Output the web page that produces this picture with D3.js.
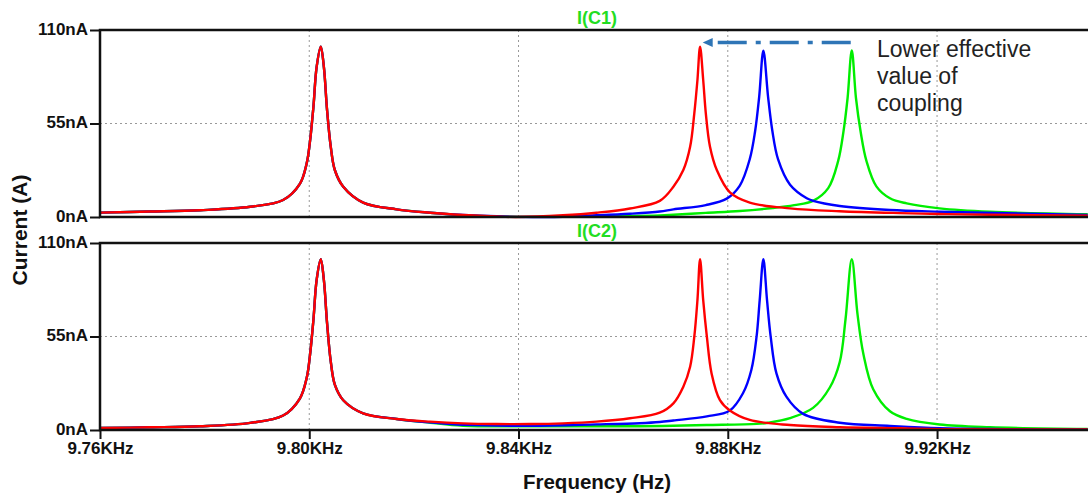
<!DOCTYPE html>
<html lang="en">
<head>
  <meta charset="utf-8">
  <title>I(C1) / I(C2) vs frequency</title>
  <script src="https://cdn.jsdelivr.net/npm/d3@7"></script>
  <style>
    body { margin: 0; background: #fff; }
    text { font-family: "Liberation Sans", Arial, sans-serif; }
  </style>
</head>
<body>
  <script>
    // frequency in KHz, current in nA
    const freqTicks = [9.76, 9.80, 9.84, 9.88, 9.92];
    const currentTicks = [0, 55, 110];

    // I(C1): first resonance is the same for all three couplings
    const c1Common = [[9.7600, 2.6], [9.7696, 3.2], [9.7791, 4.0], [9.7887, 6.0], [9.7950, 10.0],
      [9.7982, 19.5], [9.7995, 31.5], [9.8001, 43.5], [9.8008, 65.0], [9.8014, 88.0], [9.8022, 100.2],
      [9.8028, 88.0], [9.8034, 63.0], [9.8041, 41.5], [9.8049, 27.5], [9.8065, 17.8], [9.8103, 8.5],
      [9.8167, 4.5], [9.8231, 2.5]];
    const c1Red = c1Common.concat([[9.8294, 1.2], [9.8358, 0.3], [9.8396, 0.0], [9.8485, 1.0], [9.8549, 2.5],
      [9.8613, 5.0], [9.8670, 9.5], [9.8696, 17.8], [9.8715, 27.6], [9.8728, 41.3], [9.8736, 61.0],
      [9.8742, 80.6], [9.8747, 100.2], [9.8753, 80.6], [9.8758, 61.0], [9.8766, 41.3], [9.8779, 27.6],
      [9.8804, 14.5], [9.8842, 8.5], [9.8919, 5.1], [9.9014, 3.4], [9.9129, 2.3], [9.9205, 1.8],
      [9.9301, 1.3], [9.9488, 0.8]]);
    const c1Blue = c1Common.concat([[9.8294, 1.2], [9.8358, 0.4], [9.8454, 0.0], [9.8549, 1.0], [9.8613, 1.9],
      [9.8670, 3.2], [9.8696, 4.5], [9.8758, 7.0], [9.8798, 10.8], [9.8823, 18.5], [9.8842, 34.0],
      [9.8852, 50.0], [9.8860, 70.7], [9.8868, 97.8], [9.8877, 70.7], [9.8885, 51.0], [9.8896, 34.0],
      [9.8919, 19.0], [9.8951, 11.0], [9.8963, 9.5], [9.9014, 6.5], [9.9110, 4.1], [9.9205, 3.1],
      [9.9333, 2.2], [9.9488, 1.2]]);
    const c1Green = c1Common.concat([[9.8294, 1.0], [9.8358, 0.3], [9.8485, 0.1], [9.8549, 0.4], [9.8670, 0.9],
      [9.8696, 1.3], [9.8758, 2.4], [9.8823, 3.5], [9.8886, 5.3], [9.8927, 7.0], [9.8963, 9.5],
      [9.8992, 17.0], [9.9011, 33.0], [9.9021, 50.0], [9.9029, 70.0], [9.9037, 98.0], [9.9045, 70.0],
      [9.9054, 50.0], [9.9065, 33.0], [9.9084, 18.0], [9.9110, 11.0], [9.9142, 8.0], [9.9205, 5.1],
      [9.9301, 3.1], [9.9488, 1.6]]);

    // I(C2)
    const c2Common = [[9.7600, 1.2], [9.7696, 1.6], [9.7791, 2.2], [9.7887, 4.2], [9.7950, 8.5],
      [9.7982, 18.5], [9.7995, 30.5], [9.8001, 43.0], [9.8008, 65.0], [9.8014, 88.0], [9.8022, 100.4],
      [9.8028, 88.0], [9.8034, 63.0], [9.8041, 40.5], [9.8049, 26.5], [9.8065, 17.5], [9.8103, 9.8],
      [9.8167, 6.5]];
    const c2Red = c2Common.concat([[9.8231, 4.9], [9.8294, 3.9], [9.8358, 3.5], [9.8422, 3.5], [9.8485, 3.9],
      [9.8549, 4.9], [9.8613, 6.9], [9.8670, 10.2], [9.8696, 15.7], [9.8715, 25.5], [9.8728, 37.2],
      [9.8736, 54.9], [9.8742, 76.4], [9.8747, 100.4], [9.8753, 76.4], [9.8760, 54.9], [9.8769, 33.3],
      [9.8785, 17.6], [9.8804, 11.5], [9.8842, 5.9], [9.8919, 2.9], [9.9014, 1.6], [9.9129, 1.0],
      [9.9205, 0.5], [9.9488, 0.3]]);
    const c2Blue = c2Common.concat([[9.8231, 4.5], [9.8294, 3.0], [9.8422, 2.5], [9.8549, 3.3], [9.8632, 4.0],
      [9.8670, 4.7], [9.8696, 5.6], [9.8760, 8.0], [9.8804, 11.5], [9.8829, 21.6], [9.8845, 35.3],
      [9.8855, 54.9], [9.8861, 76.4], [9.8868, 100.4], [9.8875, 76.4], [9.8882, 54.9], [9.8893, 33.3],
      [9.8912, 19.6], [9.8944, 9.5], [9.9014, 4.3], [9.9110, 2.4], [9.9205, 1.0], [9.9333, 0.5],
      [9.9488, 0.3]]);
    const c2Green = c2Common.concat([[9.8231, 4.3], [9.8294, 2.5], [9.8422, 2.2], [9.8549, 2.2], [9.8632, 2.2],
      [9.8696, 2.5], [9.8760, 2.9], [9.8855, 3.6], [9.8877, 4.3], [9.8919, 7.0], [9.8963, 13.0],
      [9.8995, 25.0], [9.9014, 40.0], [9.9025, 65.0], [9.9037, 100.4], [9.9048, 68.0], [9.9059, 45.0],
      [9.9078, 24.0], [9.9110, 11.0], [9.9142, 6.5], [9.9205, 3.2], [9.9301, 1.6], [9.9488, 0.6]]);

    // arrow: from the green peak back to the red peak
    const arrowFrom = [9.9035, 102.6];
    const arrowTo = [9.8752, 102.6];
    const noteLines = ["Lower effective", "value of", "coupling"];

    const width = 1088, height = 494;
    const margins = { left: 100, top: 30 };
    const plotW = 994, plotH = 187, gap = 26;

    const svg = d3.select("body").append("svg")
      .attr("width", width)
      .attr("height", height);

    const xScale = d3.scaleLinear()
      .domain([9.76, 9.95])
      .range([margins.left, margins.left + plotW]);

    const panels = [
      { title: "I(C1)", top: margins.top, series: [["#00ee00", c1Green], ["#0000ff", c1Blue], ["#ff0000", c1Red]] },
      { title: "I(C2)", top: margins.top + plotH + gap, series: [["#00ee00", c2Green], ["#0000ff", c2Blue], ["#ff0000", c2Red]] }
    ];

    let lastY;
    panels.forEach(p => {
      let yScale = d3.scaleLinear().domain([0, 110]).range([p.top + plotH, p.top]);
      lastY = yScale;
      let g = svg.append("g");

      // dotted grid
      g.selectAll(".vgrid").data(freqTicks.slice(1)).join("line")
        .attr("x1", d => xScale(d)).attr("x2", d => xScale(d))
        .attr("y1", p.top).attr("y2", p.top + plotH)
        .attr("stroke", "#999").attr("stroke-width", 1).attr("stroke-dasharray", "2,3");
      g.append("line")
        .attr("x1", xScale.range()[0]).attr("x2", xScale.range()[1])
        .attr("y1", yScale(55)).attr("y2", yScale(55))
        .attr("stroke", "#999").attr("stroke-width", 1).attr("stroke-dasharray", "2,3");

      // curves
      let line = d3.line()
        .x(d => xScale(d[0]))
        .y(d => yScale(d[1]))
        .curve(d3.curveCatmullRom.alpha(0.5));
      g.selectAll(".trace").data(p.series).join("path")
        .attr("d", d => line(d[1]))
        .attr("fill", "none")
        .attr("stroke", d => d[0])
        .attr("stroke-width", 2.4)
        .attr("stroke-linejoin", "round");

      // frame
      g.append("rect")
        .attr("x", margins.left).attr("y", p.top)
        .attr("width", plotW).attr("height", plotH)
        .attr("fill", "none").attr("stroke", "#111").attr("stroke-width", 2.5);

      // y axis
      let yAxisG = g.append("g")
        .attr("transform", `translate(${margins.left}, 0)`)
        .call(d3.axisLeft(yScale).tickValues(currentTicks).tickFormat(d => d + "nA")
          .tickSize(10).tickSizeOuter(0).tickPadding(2));
      yAxisG.select(".domain").remove();
      yAxisG.selectAll("line").attr("stroke", "#111").attr("stroke-width", 2);
      yAxisG.selectAll("text")
        .attr("font-family", "Liberation Sans, Arial, sans-serif")
        .attr("font-size", 17).attr("font-weight", "bold").attr("fill", "#111")
        .attr("dy", "0.25em");

      // trace title
      g.append("text")
        .attr("x", 597).attr("y", p.top - 6)
        .attr("text-anchor", "middle")
        .attr("font-size", 18).attr("font-weight", "bold")
        .attr("fill", "#22dd22")
        .text(p.title);
    });

    // x axis under the lower panel
    let xAxisG = svg.append("g")
      .attr("transform", `translate(0, ${lastY.range()[0]})`)
      .call(d3.axisBottom(xScale).tickValues(freqTicks).tickFormat(d => d.toFixed(2) + "KHz")
        .tickSize(9).tickSizeOuter(0).tickPadding(2.6));
    xAxisG.select(".domain").remove();
    xAxisG.selectAll("line").attr("stroke", "#111").attr("stroke-width", 2);
    xAxisG.selectAll("text")
      .attr("font-family", "Liberation Sans, Arial, sans-serif")
      .attr("font-size", 17).attr("font-weight", "bold").attr("fill", "#111");

    // axis labels
    svg.append("text")
      .attr("x", 597).attr("y", 489)
      .attr("text-anchor", "middle")
      .attr("font-size", 20.5).attr("font-weight", "bold").attr("fill", "#111")
      .text("Frequency (Hz)");
    svg.append("g")
      .attr("transform", `translate(27, ${margins.top + plotH + gap / 2})`)
      .append("text").text("Current (A)")
      .attr("text-anchor", "middle")
      .attr("font-size", 21).attr("font-weight", "bold").attr("fill", "#111")
      .attr("transform", "rotate(-90)");

    // annotation in the upper panel
    let topY = d3.scaleLinear().domain([0, 110]).range([margins.top + plotH, margins.top]);
    let ax1 = xScale(arrowFrom[0]), ax2 = xScale(arrowTo[0]), ay = topY(arrowFrom[1]);
    svg.append("line")
      .attr("x1", ax1).attr("x2", ax2 + 15)
      .attr("y1", ay).attr("y2", ay)
      .attr("stroke", "#2e75b6").attr("stroke-width", 3.5)
      .attr("stroke-dasharray", "29,9,5,9");
    svg.append("path")
      .attr("d", `M${ax2},${ay} L${ax2 + 10},${ay - 4.5} L${ax2 + 10},${ay + 4.5} Z`)
      .attr("fill", "#2e75b6");
    svg.append("text")
      .attr("x", 877).attr("y", 57)
      .attr("font-size", 23).attr("fill", "#222")
      .selectAll("tspan").data(noteLines).join("tspan")
      .attr("x", 877)
      .attr("dy", (d, i) => i === 0 ? 0 : 27)
      .text(d => d);
  </script>
</body>
</html>
